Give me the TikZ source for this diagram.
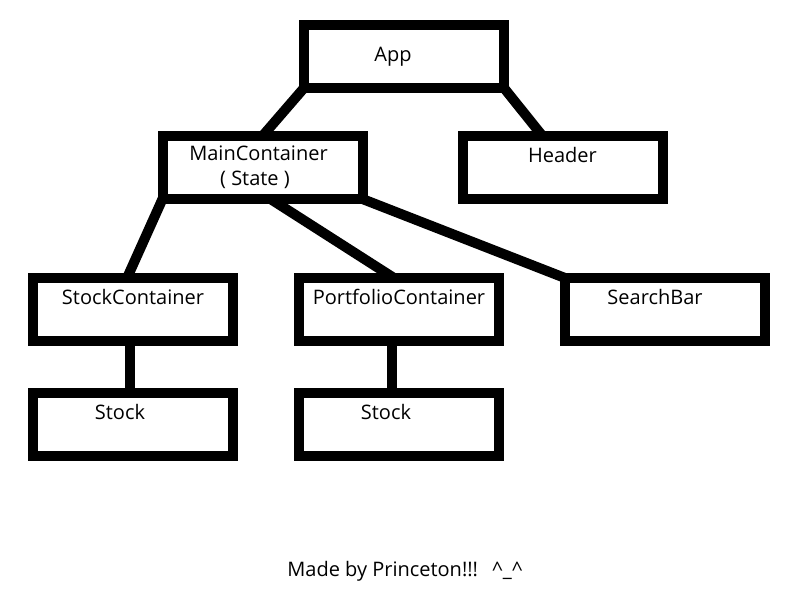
\documentclass[tikz,border=0pt]{standalone}
\usepackage{fontspec}
\setmainfont{Open Sans}
\usetikzlibrary{positioning}
\tikzset{
    font=\fontsize{20}{25}\selectfont,
    comp/.style={draw,line width=10pt,outer sep=0pt,minimum width=200pt,minimum height=63pt,align=center},
    leaf/.style={comp,text height=13pt,text depth=23pt},
    link/.style={line width=10pt}
}
\begin{document}
\begin{tikzpicture}
    \useasboundingbox (0,0) rectangle (800pt,-600pt);
    \node[comp] (app) at (404pt,-56.5pt) {App\kern22pt};
    \node[comp] (main) [below = 48pt of app, xshift=-141.5pt] {MainContainer\kern8pt\\( State )\kern15pt};
    \node[leaf] (hdr) [right = 100pt of main] {Header};
    \node[leaf] (sc) [below = 79pt of main, xshift=-129.5pt] {StockContainer};
    \node[leaf] (pc) [right = 66pt of sc] {PortfolioContainer};
    \node[leaf] (sb) [right = 66pt of pc] {SearchBar\kern20pt};
    \node[leaf] (st1) [below = 52pt of sc] {Stock\kern26pt};
    \node[leaf] (st2) [below = 52pt of pc] {Stock\kern26pt};
    \node (credit) at (405pt,-571pt) {Made by Princeton!!!\hspace{0.7em}\textasciicircum\_\textasciicircum};
    \path[link]
        (app.south west) edge (main.north)
        (app.south east) edge ([xshift=-20pt]hdr.north)
        (main.south west) edge ([xshift=-6pt]sc.north)
        ([xshift=8pt]main.south) edge ([xshift=-5pt]pc.north)
        (main.south east) edge (sb.north west)
        ([xshift=-3pt]sc.south) edge ([xshift=-3pt]st1.north)
        ([xshift=-7pt]pc.south) edge ([xshift=-7pt]st2.north)
        ;
\end{tikzpicture}
\end{document}
